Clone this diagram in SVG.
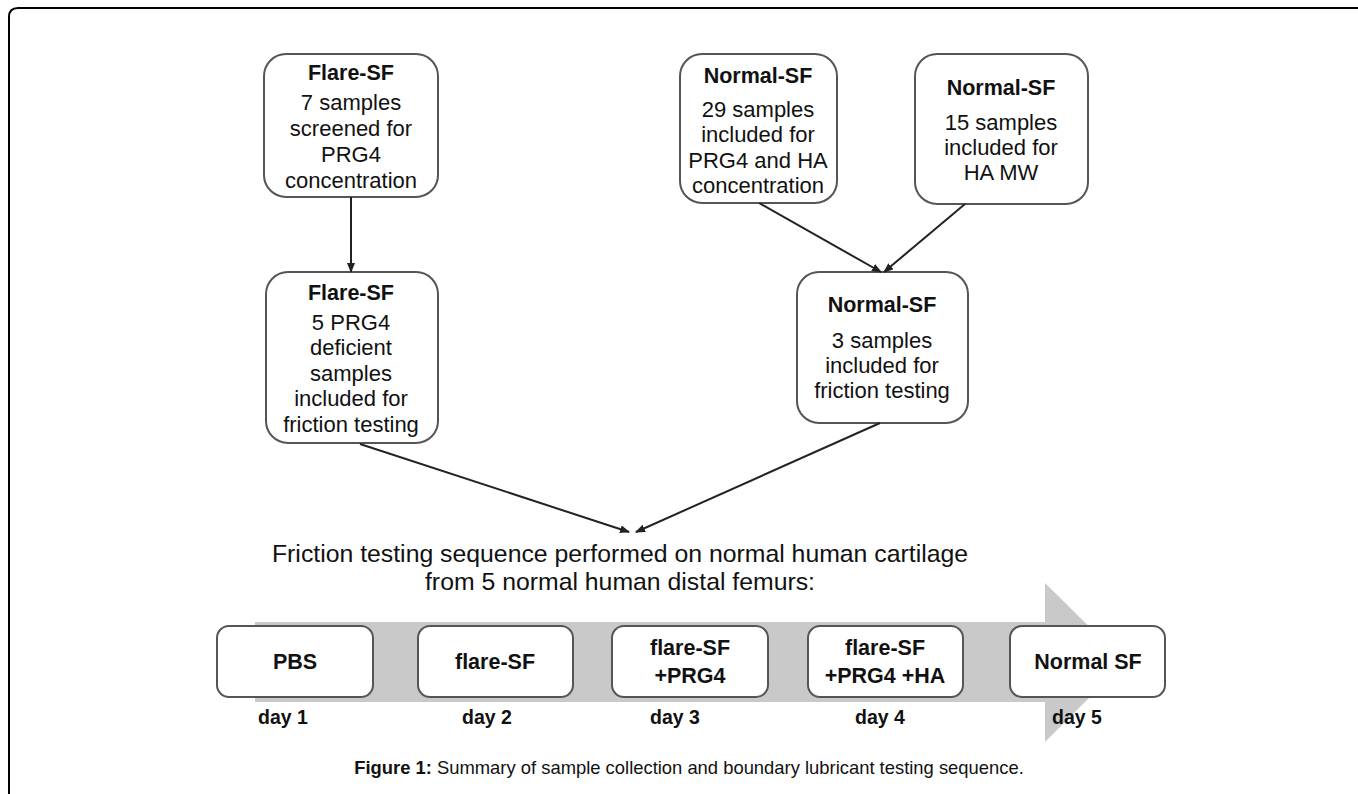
<svg xmlns="http://www.w3.org/2000/svg" width="1358" height="794" viewBox="0 0 1358 794">
<style>
.box{fill:#fff;stroke:#555;stroke-width:2}
.conn{stroke:#222;stroke-width:2;fill:none;marker-end:url(#ah)}
text{font-family:"Liberation Sans",Arial,sans-serif;fill:#111;text-anchor:middle}
.h{font-size:21.5px;font-weight:bold}
.t{font-size:22px}
.b{font-size:21.5px;font-weight:bold}
.d{font-size:19.5px;font-weight:bold}
.title{font-size:24.8px}
.cap{font-size:18.4px}
</style>
<defs>
<marker id="ah" markerWidth="10" markerHeight="8" refX="9" refY="4" orient="auto" markerUnits="userSpaceOnUse">
<path d="M0,0 L10,4 L0,8 Z" fill="#222"/>
</marker>
</defs>
<rect width="1358" height="794" fill="#fff"/>
<path d="M9,794 L9,17 Q9,8 18,8 L1358,8" fill="none" stroke="#000" stroke-width="2"/>

<g id="n1"><rect class="box" x="264" y="54" width="174" height="143" rx="22"/>
<text class="h" x="351" y="80">Flare-SF</text>
<text class="t" x="351" y="110">7 samples</text>
<text class="t" x="351" y="136">screened for</text>
<text class="t" x="351" y="162">PRG4</text>
<text class="t" x="351" y="188">concentration</text></g>

<g id="n2"><rect class="box" x="680" y="54" width="157" height="149" rx="22"/>
<text class="h" x="758" y="83">Normal-SF</text>
<text class="t" x="758" y="117">29 samples</text>
<text class="t" x="758" y="142">included for</text>
<text class="t" x="758" y="168">PRG4 and HA</text>
<text class="t" x="758" y="193">concentration</text></g>

<g id="n3"><rect class="box" x="915" y="54" width="173" height="150" rx="22"/>
<text class="h" x="1001" y="95">Normal-SF</text>
<text class="t" x="1001" y="130">15 samples</text>
<text class="t" x="1001" y="155">included for</text>
<text class="t" x="1001" y="180">HA MW</text></g>

<g id="n4"><rect class="box" x="266" y="272" width="172" height="171" rx="22"/>
<text class="h" x="351" y="300">Flare-SF</text>
<text class="t" x="351" y="330">5 PRG4</text>
<text class="t" x="351" y="355">deficient</text>
<text class="t" x="351" y="381">samples</text>
<text class="t" x="351" y="406">included for</text>
<text class="t" x="351" y="432">friction testing</text></g>

<g id="n5"><rect class="box" x="797" y="272" width="171" height="151" rx="22"/>
<text class="h" x="882" y="312">Normal-SF</text>
<text class="t" x="882" y="348">3 samples</text>
<text class="t" x="882" y="373">included for</text>
<text class="t" x="882" y="398">friction testing</text></g>

<g id="connectors">
<path class="conn" d="M351,197 L351,272"/>
<path class="conn" d="M759,203 L881,272"/>
<path class="conn" d="M965,204 L884,272"/>
<path class="conn" d="M360,444 L629,532"/>
<path class="conn" d="M880,423 L636,532"/>
</g>

<g id="title">
<text class="title" x="620" y="562">Friction testing sequence performed on normal human cartilage</text>
<text class="title" x="620" y="590">from 5 normal human distal femurs:</text>
</g>

<g id="timeline">
<path d="M255,622 L1045,622 L1045,583 L1125,662 L1045,742 L1045,702 L255,702 Z" fill="#c9c9c9"/>
</g>

<g id="s1"><rect class="box" x="217" y="626" width="156" height="71" rx="12"/>
<text class="b" x="295" y="669">PBS</text></g>
<g id="s2"><rect class="box" x="418" y="626" width="155" height="71" rx="12"/>
<text class="b" x="495" y="669">flare-SF</text></g>
<g id="s3"><rect class="box" x="612" y="626" width="156" height="71" rx="12"/>
<text class="b" x="690" y="655">flare-SF</text>
<text class="b" x="690" y="683">+PRG4</text></g>
<g id="s4"><rect class="box" x="808" y="626" width="155" height="71" rx="12"/>
<text class="b" x="885" y="655">flare-SF</text>
<text class="b" x="885" y="683">+PRG4 +HA</text></g>
<g id="s5"><rect class="box" x="1010" y="626" width="155" height="71" rx="12"/>
<text class="b" x="1088" y="669">Normal SF</text></g>

<g id="days">
<text class="d" x="283" y="724">day 1</text>
<text class="d" x="487" y="724">day 2</text>
<text class="d" x="675" y="724">day 3</text>
<text class="d" x="880" y="724">day 4</text>
<text class="d" x="1077" y="724">day 5</text>
</g>

<text class="cap" x="689" y="774"><tspan font-weight="bold">Figure 1:</tspan> Summary of sample collection and boundary lubricant testing sequence.</text>
</svg>
